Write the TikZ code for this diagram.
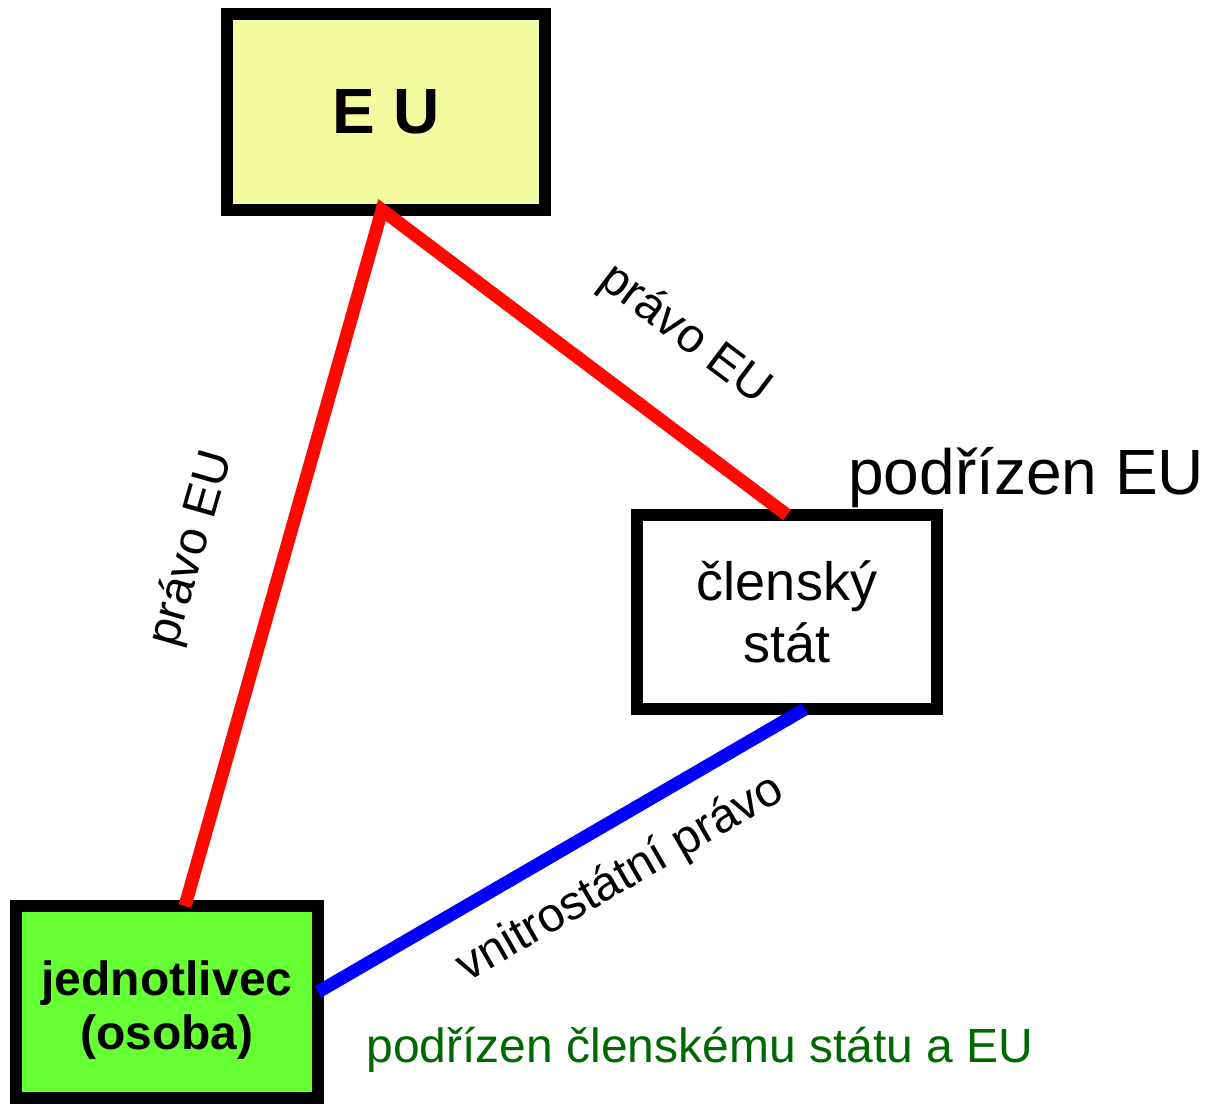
\documentclass[tikz,border=0pt]{standalone}
\usepackage{fontspec}
\setmainfont{Liberation Sans}
\usepackage{tikz}
\definecolor{eufill}{RGB}{245,251,160}
\definecolor{personfill}{RGB}{102,255,51}
\definecolor{lawred}{RGB}{255,8,0}
\definecolor{notegreen}{RGB}{0,104,0}
\tikzstyle{box}=[draw, line width=6pt, inner sep=0, outer sep=0, align=center]
\tikzstyle{eubox}=[box, fill=eufill, minimum width=159pt, minimum height=98pt,
                   font=\fontsize{32}{38}\selectfont\bfseries]
\tikzstyle{statebox}=[box, fill=white, minimum width=150pt, minimum height=97pt,
                      font=\fontsize{27}{31}\selectfont]
\tikzstyle{personbox}=[box, fill=personfill, minimum width=151pt, minimum height=96pt,
                       text height=52pt, font=\fontsize{24}{27}\selectfont\bfseries]
\tikzstyle{law}=[line width=6.5pt, line join=miter]
\tikzstyle{lawlabel}=[inner sep=0, font=\fontsize{24}{28}\selectfont]
\tikzstyle{diagram}=[x=0.5pt, y=-0.5pt,
                     % Fix the page to the size of the reference.
                     execute at begin picture={\useasboundingbox (0, 0) rectangle (1205, 1104);}]

\begin{document}
\begin{tikzpicture}[diagram]
    \node[eubox]     (EU) at (386, 112) {E U};
    \node[statebox]  (state) at (787, 612) {členský\\stát};
    \node[personbox] (person) at (167, 1002) {jednotlivec\\(osoba)};
    \draw[law, lawred] ([xshift=9pt]person.north) -- ([xshift=-2pt]EU.south) -- (state.north);
    \draw[law, blue] ([xshift=9pt]state.south) -- ([yshift=5pt]person.east);
    \node[lawlabel, rotate=74]  (lawleft) at (192, 549) {právo EU};
    \node[lawlabel, rotate=-37] (lawright) at (685, 335) {právo EU};
    \node[lawlabel, rotate=30]  (lawstate) at (621, 879) {vnitrostátní právo};
    \node[inner sep=0, anchor=base west, font=\fontsize{32}{38}\selectfont] (stateunder) at (848, 494) {podřízen EU};
    \node[inner sep=0, anchor=base, text=notegreen, font=\fontsize{24}{28}\selectfont] (personunder) at (700, 1062) {podřízen členskému státu a EU};
\end{tikzpicture}
\end{document}
